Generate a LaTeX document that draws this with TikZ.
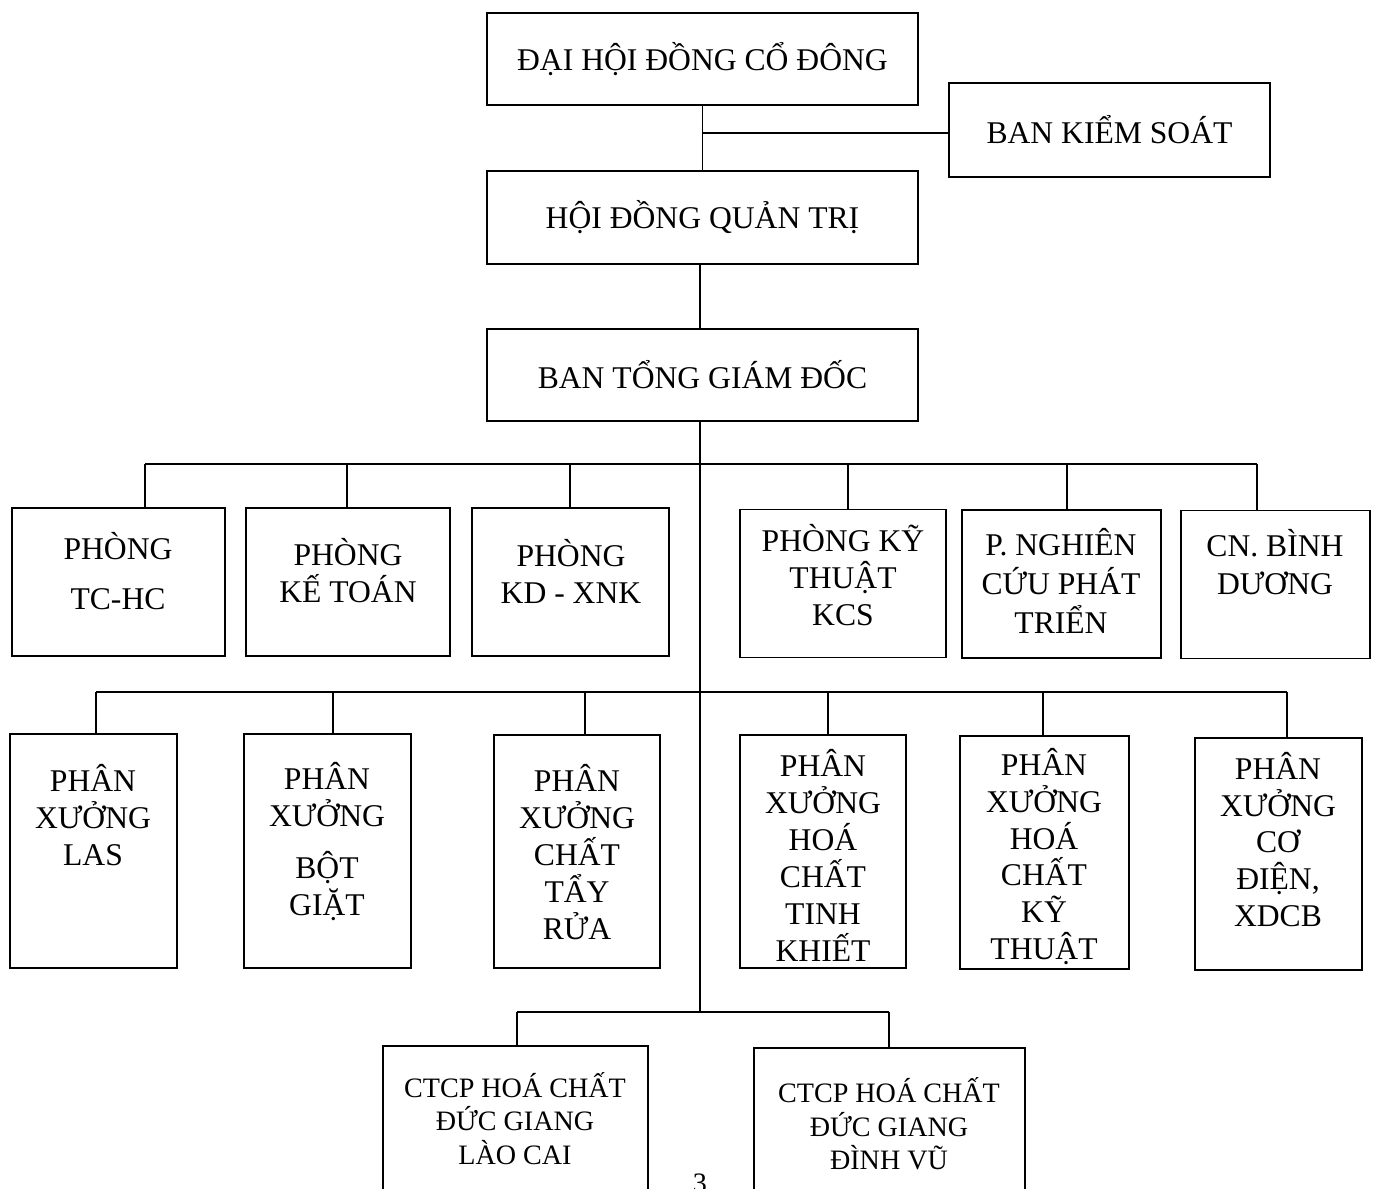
\documentclass[tikz,border=0pt]{standalone}
\usepackage{fontspec}
\setmainfont{Liberation Serif}
\begin{document}
\begin{tikzpicture}[x=0.02cm,y=-0.02cm,line width=1.1pt,
	box/.style={draw=black,rectangle,inner sep=0pt},
	lbl/.style={align=center,font=\fontsize{18}{21}\selectfont,inner sep=0pt},
	sublbl/.style={align=center,font=\fontsize{16}{19}\selectfont,inner sep=0pt}]
	\useasboundingbox (0,0) rectangle (1380,1189);
	% top of the chart
	\node[box,lbl,minimum width=8.62cm,minimum height=1.84cm] (dhcd) at (702.5,59) {ĐẠI HỘI ĐỒNG CỔ ĐÔNG};
	\node[box,lbl,minimum width=6.42cm,minimum height=1.88cm] (bks) at (1109.5,130) {BAN KIỂM SOÁT};
	\node[box,lbl,minimum width=8.62cm,minimum height=1.86cm] (hdqt) at (702.5,217.5) {HỘI ĐỒNG QUẢN TRỊ};
	\node[box,lbl,minimum width=8.62cm,minimum height=1.84cm] (btgd) at (702.5,375) {BAN TỔNG GIÁM ĐỐC};
	\coordinate (j0) at (702,133);
	\draw (dhcd) -- (hdqt);
	\draw (j0) -- (j0 -| bks.west);
	\draw (hdqt.south -| 700,0) -- (btgd.north -| 700,0);
	\coordinate (t) at (700,1012);
	\draw (btgd.south -| t) -- (t);
	% phong ban
	\node[box,minimum width=4.26cm,minimum height=2.96cm] (p1) at (118.5,582) {};
	\node[box,minimum width=4.08cm,minimum height=2.96cm] (p2) at (348,582) {};
	\node[box,minimum width=3.94cm,minimum height=2.96cm] (p3) at (570.5,582) {};
	\node[box,minimum width=4.12cm,minimum height=2.96cm] (p4) at (843,583.5) {};
	\node[box,minimum width=3.98cm,minimum height=2.96cm] (p5) at (1061.5,584) {};
	\node[box,minimum width=3.78cm,minimum height=2.96cm] (p6) at (1275.5,584.5) {};
	\node[lbl] (p1t) at (118,571) {PHÒNG\\[7pt]TC-HC};
	\node[lbl] (p2t) at (348,570.5) {PHÒNG\\KẾ TOÁN};
	\node[lbl] (p3t) at (571,571.5) {PHÒNG\\KD - XNK};
	\node[lbl] (p4t) at (843,575) {PHÒNG KỸ\\THUẬT\\KCS};
	\node[lbl] (p5t) at (1061,581) {P. NGHIÊN\\[1pt]CỨU PHÁT\\[1pt]TRIỂN};
	\node[lbl] (p6t) at (1275,562) {CN. BÌNH\\[1pt]DƯƠNG};
	\coordinate (a1) at (145,464);
	\coordinate (a2) at (347,464);
	\coordinate (a3) at (570,464);
	\coordinate (a4) at (848,464);
	\coordinate (a5) at (1067,464);
	\coordinate (a6) at (1257,464);
	\draw (a1) -- (a6);
	\foreach \i in {1,...,6}
		\draw (a\i) -- (a\i |- p\i.north);
	% phan xuong
	\node[box,minimum width=3.34cm,minimum height=4.68cm] (q1) at (93.5,851) {};
	\node[box,minimum width=3.34cm,minimum height=4.68cm] (q2) at (327.5,851) {};
	\node[box,minimum width=3.32cm,minimum height=4.66cm] (q3) at (577,851.5) {};
	\node[box,minimum width=3.32cm,minimum height=4.66cm] (q4) at (823,851.5) {};
	\node[box,minimum width=3.38cm,minimum height=4.66cm] (q5) at (1044.5,852.5) {};
	\node[box,minimum width=3.34cm,minimum height=4.64cm] (q6) at (1278.5,854) {};
	\node[lbl] (q1t) at (93,815) {PHÂN\\XƯỞNG\\LAS};
	\node[lbl] (q2t) at (327,841.5) {PHÂN\\XƯỞNG\\[9pt]BỘT\\GIẶT};
	\node[lbl] (q3t) at (577,852) {PHÂN\\XƯỞNG\\CHẤT\\TẨY\\RỬA};
	\node[lbl] (q4t) at (823,855.5) {PHÂN\\XƯỞNG\\HOÁ\\CHẤT\\TINH\\KHIẾT};
	\node[lbl] (q5t) at (1044,856.5) {PHÂN\\XƯỞNG\\HOÁ\\CHẤT\\KỸ\\THUẬT};
	\node[lbl] (q6t) at (1278,839.5) {PHÂN\\XƯỞNG\\CƠ\\ĐIỆN,\\XDCB};
	\coordinate (b1) at (96,692);
	\coordinate (b2) at (333,692);
	\coordinate (b3) at (585,692);
	\coordinate (b4) at (828,692);
	\coordinate (b5) at (1043,692);
	\coordinate (b6) at (1287,692);
	\draw (b1) -- (b6);
	\foreach \i in {1,...,6}
		\draw (b\i) -- (b\i |- q\i.north);
	% cong ty con
	\node[box,minimum width=5.30cm,minimum height=3.88cm] (c1) at (515.5,1143) {};
	\node[box,minimum width=5.42cm,minimum height=3.84cm] (c2) at (889.5,1144) {};
	\node[sublbl] (c1t) at (515,1118.5) {CTCP HOÁ CHẤT\\ĐỨC GIANG\\LÀO CAI};
	\node[sublbl] (c2t) at (889,1124) {CTCP HOÁ CHẤT\\ĐỨC GIANG\\ĐÌNH VŨ};
	\coordinate (e1) at (517,1012);
	\coordinate (e2) at (889,1012);
	\draw (e1) -- (e2);
	\draw (e1) -- (c1.north -| e1);
	\draw (e2) -- (c2.north -| e2);
	\node[sublbl] (pg) at (700,1183) {3};
\end{tikzpicture}
\end{document}
